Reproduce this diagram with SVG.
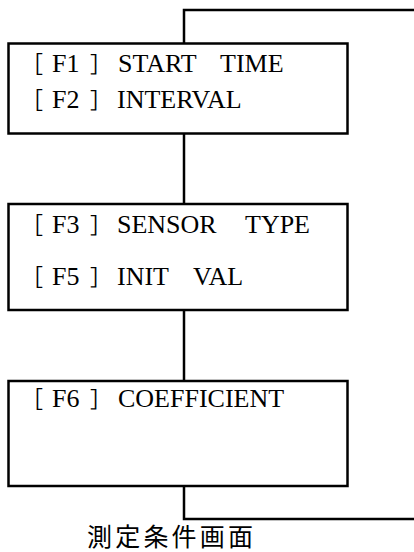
<svg xmlns="http://www.w3.org/2000/svg" width="414" height="552" viewBox="0 0 414 552">
  <style>
    .box { fill: #ffffff; stroke: #000000; stroke-width: 2.5; }
    .wire { fill: none; stroke: #000000; stroke-width: 2.5; }
    .lbl { font-family: "Liberation Serif", "Times New Roman", serif; font-size: 26px; fill: #000000; }
    .brk { font-family: "Noto Sans CJK JP", sans-serif; font-size: 22px; fill: #000000; }
    .cap { font-family: "Noto Sans CJK JP", sans-serif; font-size: 25px; letter-spacing: 3.2px; fill: #000000; }
  </style>

  <!-- connectors: loop from the right edge through the three screens and back out -->
  <g id="connectors">
    <polyline class="wire" points="414,10 184,10 184,43"/>
    <line class="wire" x1="184" y1="133" x2="184" y2="204"/>
    <line class="wire" x1="184" y1="310" x2="184" y2="381"/>
    <polyline class="wire" points="184,486 184,519 414,519"/>
  </g>

  <!-- screen 1 -->
  <g id="screen-f1-f2">
    <rect class="box" x="8.5" y="43.5" width="339" height="90"/>
    <text class="brk" x="21" y="72">［</text>
    <text class="lbl" x="52" y="72">F1</text>
    <text class="brk" x="90" y="72">］</text>
    <text class="lbl" x="118" y="72">START</text>
    <text class="lbl" x="220" y="72">TIME</text>
    <text class="brk" x="21" y="108">［</text>
    <text class="lbl" x="52" y="108">F2</text>
    <text class="brk" x="90" y="108">］</text>
    <text class="lbl" x="117" y="108">INTERVAL</text>
  </g>

  <!-- screen 2 -->
  <g id="screen-f3-f5">
    <rect class="box" x="8.5" y="204" width="339" height="106"/>
    <text class="brk" x="21" y="233">［</text>
    <text class="lbl" x="52" y="233">F3</text>
    <text class="brk" x="90" y="233">］</text>
    <text class="lbl" x="117" y="233">SENSOR</text>
    <text class="lbl" x="245" y="233">TYPE</text>
    <text class="brk" x="21" y="285">［</text>
    <text class="lbl" x="52" y="285">F5</text>
    <text class="brk" x="90" y="285">］</text>
    <text class="lbl" x="117" y="285">INIT</text>
    <text class="lbl" x="193" y="285">VAL</text>
  </g>

  <!-- screen 3 -->
  <g id="screen-f6">
    <rect class="box" x="8.5" y="381" width="339" height="105"/>
    <text class="brk" x="21" y="407">［</text>
    <text class="lbl" x="52" y="407">F6</text>
    <text class="brk" x="90" y="407">］</text>
    <text class="lbl" x="118" y="407">COEFFICIENT</text>
  </g>

  <!-- caption -->
  <g id="caption">
    <text class="cap" x="87" y="546">測定条件画面</text>
  </g>
</svg>
